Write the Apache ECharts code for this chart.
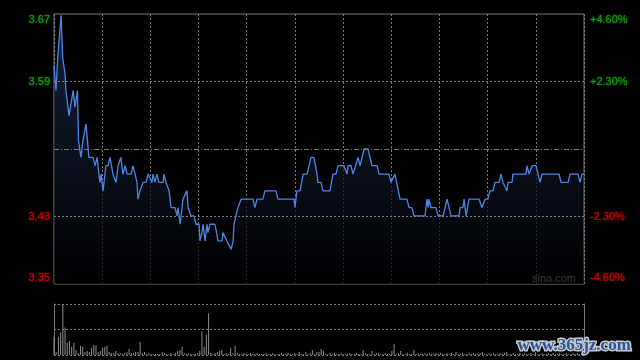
<!DOCTYPE html>
<html><head><meta charset="utf-8">
<script src="https://cdn.jsdelivr.net/npm/echarts@6/dist/echarts.min.js"></script>
<style>html,body{margin:0;padding:0;background:#000;}#c{width:640px;height:360px;}</style>
</head><body><div id="c"></div>
<script>
const prevClose = 3.51;
// minutes after open (0..240) and price at that moment
const priceMinutes = [0,0.9,1.7,2.4,3.2,3.9,4.5,5.0,5.4,6.2,6.8,7.7,8.7,9.5,10.6,11.1,12.2,13.1,14.5,14.9,15.8,17.7,18.6,19.5,19.9,20.8,21.3,22.2,23.1,23.5,24.5,25.4,26.7,27.6,28.1,29.0,30.3,31.2,32.2,33.1,34.9,35.8,36.2,37.6,38.0,38.9,39.8,40.3,41.7,42.6,43.5,44.4,44.8,45.7,46.6,47.5,49.4,49.8,50.7,51.2,52.1,53.0,54.8,55.7,56.2,57.1,58.0,58.4,59.3,60.2,60.7,61.1,62.0,63.4,64.3,65.7,66.1,67.0,67.5,68.4,69.3,69.7,70.6,72.9,74.3,76.1,76.5,77.4,78.3,79.2,80.2,81.1,81.5,82.4,83.3,83.8,84.7,90.1,91.0,91.9,94.6,95.5,100.5,101.4,108.7,109.1,110.0,111.4,112.8,114.6,116.4,117.7,119.1,119.5,120.9,121.8,125.0,126.3,127.7,128.6,131.3,132.7,133.1,134.5,135.4,136.3,137.7,138.6,139.5,140.4,142.2,144.0,146.3,147.2,151.7,152.6,153.5,154.4,155.3,156.7,159.8,160.8,162.1,163.0,168.0,168.9,169.4,169.8,170.7,173.0,173.9,176.2,178.0,178.4,179.8,183.4,183.9,185.2,185.7,186.6,187.0,187.9,192.5,193.8,194.3,195.2,196.5,197.4,198.8,199.7,201.5,202.4,203.3,204.2,205.1,205.6,207.4,207.8,213.7,214.2,215.1,216.5,218.3,219.2,220.1,221.0,228.7,229.6,232.8,233.7,237.3,238.2,239.1,240];
const prices = [3.61,3.58,3.62,3.62,3.67,3.62,3.62,3.60,3.58,3.58,3.55,3.55,3.58,3.56,3.58,3.52,3.50,3.52,3.54,3.54,3.50,3.50,3.49,3.50,3.49,3.47,3.48,3.46,3.46,3.49,3.49,3.50,3.48,3.48,3.47,3.49,3.50,3.48,3.49,3.48,3.48,3.49,3.49,3.47,3.45,3.46,3.46,3.47,3.47,3.48,3.48,3.47,3.48,3.47,3.48,3.47,3.47,3.48,3.47,3.47,3.46,3.44,3.44,3.43,3.44,3.42,3.44,3.45,3.45,3.46,3.44,3.44,3.43,3.43,3.42,3.42,3.40,3.41,3.42,3.40,3.42,3.41,3.42,3.42,3.40,3.40,3.41,3.41,3.40,3.40,3.39,3.40,3.42,3.42,3.44,3.44,3.45,3.45,3.44,3.45,3.45,3.46,3.46,3.45,3.45,3.44,3.46,3.46,3.48,3.48,3.50,3.50,3.48,3.47,3.47,3.46,3.46,3.48,3.48,3.49,3.49,3.48,3.49,3.49,3.48,3.48,3.50,3.49,3.50,3.51,3.51,3.49,3.49,3.48,3.48,3.47,3.47,3.48,3.48,3.45,3.45,3.44,3.44,3.43,3.43,3.45,3.44,3.45,3.44,3.44,3.43,3.43,3.45,3.45,3.43,3.43,3.44,3.44,3.45,3.43,3.43,3.45,3.45,3.44,3.44,3.45,3.45,3.46,3.46,3.47,3.47,3.48,3.47,3.47,3.46,3.47,3.47,3.48,3.48,3.49,3.48,3.49,3.49,3.48,3.47,3.48,3.48,3.47,3.47,3.48,3.48,3.47,3.48,3.48];
// per-minute volume (relative units)
const volumes = [18,3,18,22,50,27,12,14,8,12,5,2,9,8,3,4,3,7,10,9,3,4,7,8,9,3,2,2,4,2,2,1,2,3,6,2,2,3,3,13,2,3,1,2,1,1,1,1,1,3,2,1,1,2,1,2,4,5,8,2,1,2,1,1,1,2,4,23,8,20,41,2,1,2,3,4,5,1,2,1,7,2,9,2,1,1,2,1,1,2,1,1,2,1,1,1,2,1,1,2,1,1,1,2,1,1,2,1,1,2,1,3,1,1,3,1,2,5,1,3,3,6,4,1,1,2,1,2,1,1,2,1,1,1,2,1,1,2,1,1,5,2,1,1,4,1,2,2,1,1,2,1,1,4,11,1,2,4,1,1,2,1,1,5,1,2,1,1,2,1,2,1,1,2,1,2,1,1,2,1,2,1,3,1,1,2,1,1,2,1,2,1,1,2,3,1,1,2,1,2,1,1,2,1,2,3,1,1,2,1,1,2,1,2,1,1,2,1,3,1,1,2,1,1,2,1,2,1,1,2,1,1,2,1,1,2,1,2,1,2,3];
// tick values in tenths of a percent, and their labels
const pctTicks = [-46,-23,0,23,46];
const priceTickLabels = ['3.35','3.43','','3.59','3.67'];
const pctTickLabels = ['-4.60%','-2.30%','','+2.30%','+4.60%'];

const GREEN = '#0fa00f', RED = '#d20000', GRID = '#7a7a7a';
function labelFmt(list){
  return function(v){
    const i = pctTicks.indexOf(Math.round(v));
    if (i < 0 || list[i] === '') return '';
    const key = (v > 0 ? 'g' : 'r') + (i === 4 ? 't' : (i === 0 ? 'b' : 'm'));
    return '{' + key + '|' + list[i] + '}';
  };
}
function rich(){
  const base = {fontSize: 11, fontFamily: 'Liberation Sans, Arial, sans-serif'};
  const mk = (c, pad) => Object.assign({}, base, {color: c, padding: pad, textShadowColor: c, textShadowBlur: 2});
  return {
    gt: mk(GREEN, [12,0,0,0]), gm: mk(GREEN, [0,0,0,0]), gb: mk(GREEN, [0,0,12,0]),
    rt: mk(RED, [12,0,0,0]), rm: mk(RED, [0,0,0,0]), rb: mk(RED, [0,0,12,0])
  };
}

const priceData = priceMinutes.map((m, i) => [m, (prices[i] / prevClose - 1) * 1000]);
const volData = volumes.map((v, i) => [i, v]);

const chart = echarts.init(document.getElementById('c'), null, {renderer: 'canvas'});
chart.setOption({
  animation: false,
  backgroundColor: '#000',
  grid: [
    {left: 54, right: 56, top: 14, height: 270, show: true, borderColor: GRID, borderWidth: 1, backgroundColor: 'transparent'},
    {left: 54, right: 56, top: 304, height: 51}
  ],
  xAxis: [
    {type: 'value', gridIndex: 0, min: 0, max: 240, show: false},
    {type: 'value', gridIndex: 0, min: 0, max: 11, interval: 1, axisLine: {show: false}, axisTick: {show: false}, axisLabel: {show: false},
      splitLine: {show: true, lineStyle: {color: GRID, type: [2, 2], width: 1}}},
    {type: 'value', gridIndex: 1, min: 0, max: 240, show: false}
  ],
  yAxis: [
    {type: 'value', gridIndex: 0, position: 'left', min: -46, max: 46, interval: 23,
      axisLine: {show: false}, axisTick: {show: false}, splitLine: {show: false},
      axisLabel: {margin: 4, formatter: labelFmt(priceTickLabels), rich: rich()}},
    {type: 'value', gridIndex: 0, position: 'right', min: -46, max: 46, interval: 23,
      axisLine: {show: false}, axisTick: {show: false}, splitLine: {show: false},
      axisLabel: {margin: 6, formatter: labelFmt(pctTickLabels), rich: rich()}},
    {type: 'value', gridIndex: 1, position: 'left', min: 0, max: 50, interval: 25,
      axisLine: {show: true, lineStyle: {color: GRID}}, axisTick: {show: false}, axisLabel: {show: false},
      splitLine: {show: true, lineStyle: {color: GRID, type: [2, 2]}}},
    {type: 'value', gridIndex: 1, position: 'right', min: 0, max: 50, interval: 25,
      axisLine: {show: true, lineStyle: {color: GRID}}, axisTick: {show: false}, axisLabel: {show: false}, splitLine: {show: false}}
  ],
  series: [
    {type: 'line', xAxisIndex: 0, yAxisIndex: 0, data: priceData, symbol: 'none', silent: true,
      lineStyle: {color: '#4a86e8', width: 1.3},
      areaStyle: {origin: 'start', color: new echarts.graphic.LinearGradient(0, 0, 0, 1, [
        {offset: 0, color: '#1e2f50'}, {offset: 1, color: '#000000'}])},
      markLine: {silent: true, symbol: 'none', label: {show: false},
        lineStyle: {color: GRID, width: 1, type: [2, 2]},
        data: [{yAxis: 23}, {yAxis: -23}, {yAxis: 0, lineStyle: {type: [5, 2, 1, 2], color: GRID}}]},
      z: 3},
    {type: 'bar', xAxisIndex: 2, yAxisIndex: 2, data: volData, barWidth: 1, silent: true,
      itemStyle: {color: '#8c8c8c'}}
  ],
  graphic: [
    {type: 'text', left: 532, top: 273, silent: true,
      style: {text: 'sina.com', fill: '#b4b4b4', font: '11px Liberation Sans, Arial, sans-serif'}},
    {type: 'text', left: 516, top: 336, silent: true,
      style: {text: 'www.365jz.com', fill: '#2855a0', stroke: '#c8c8c8', lineWidth: 3,
        font: 'bold 17px Liberation Serif, serif'}, z: 10}
  ]
});
</script></body></html>
